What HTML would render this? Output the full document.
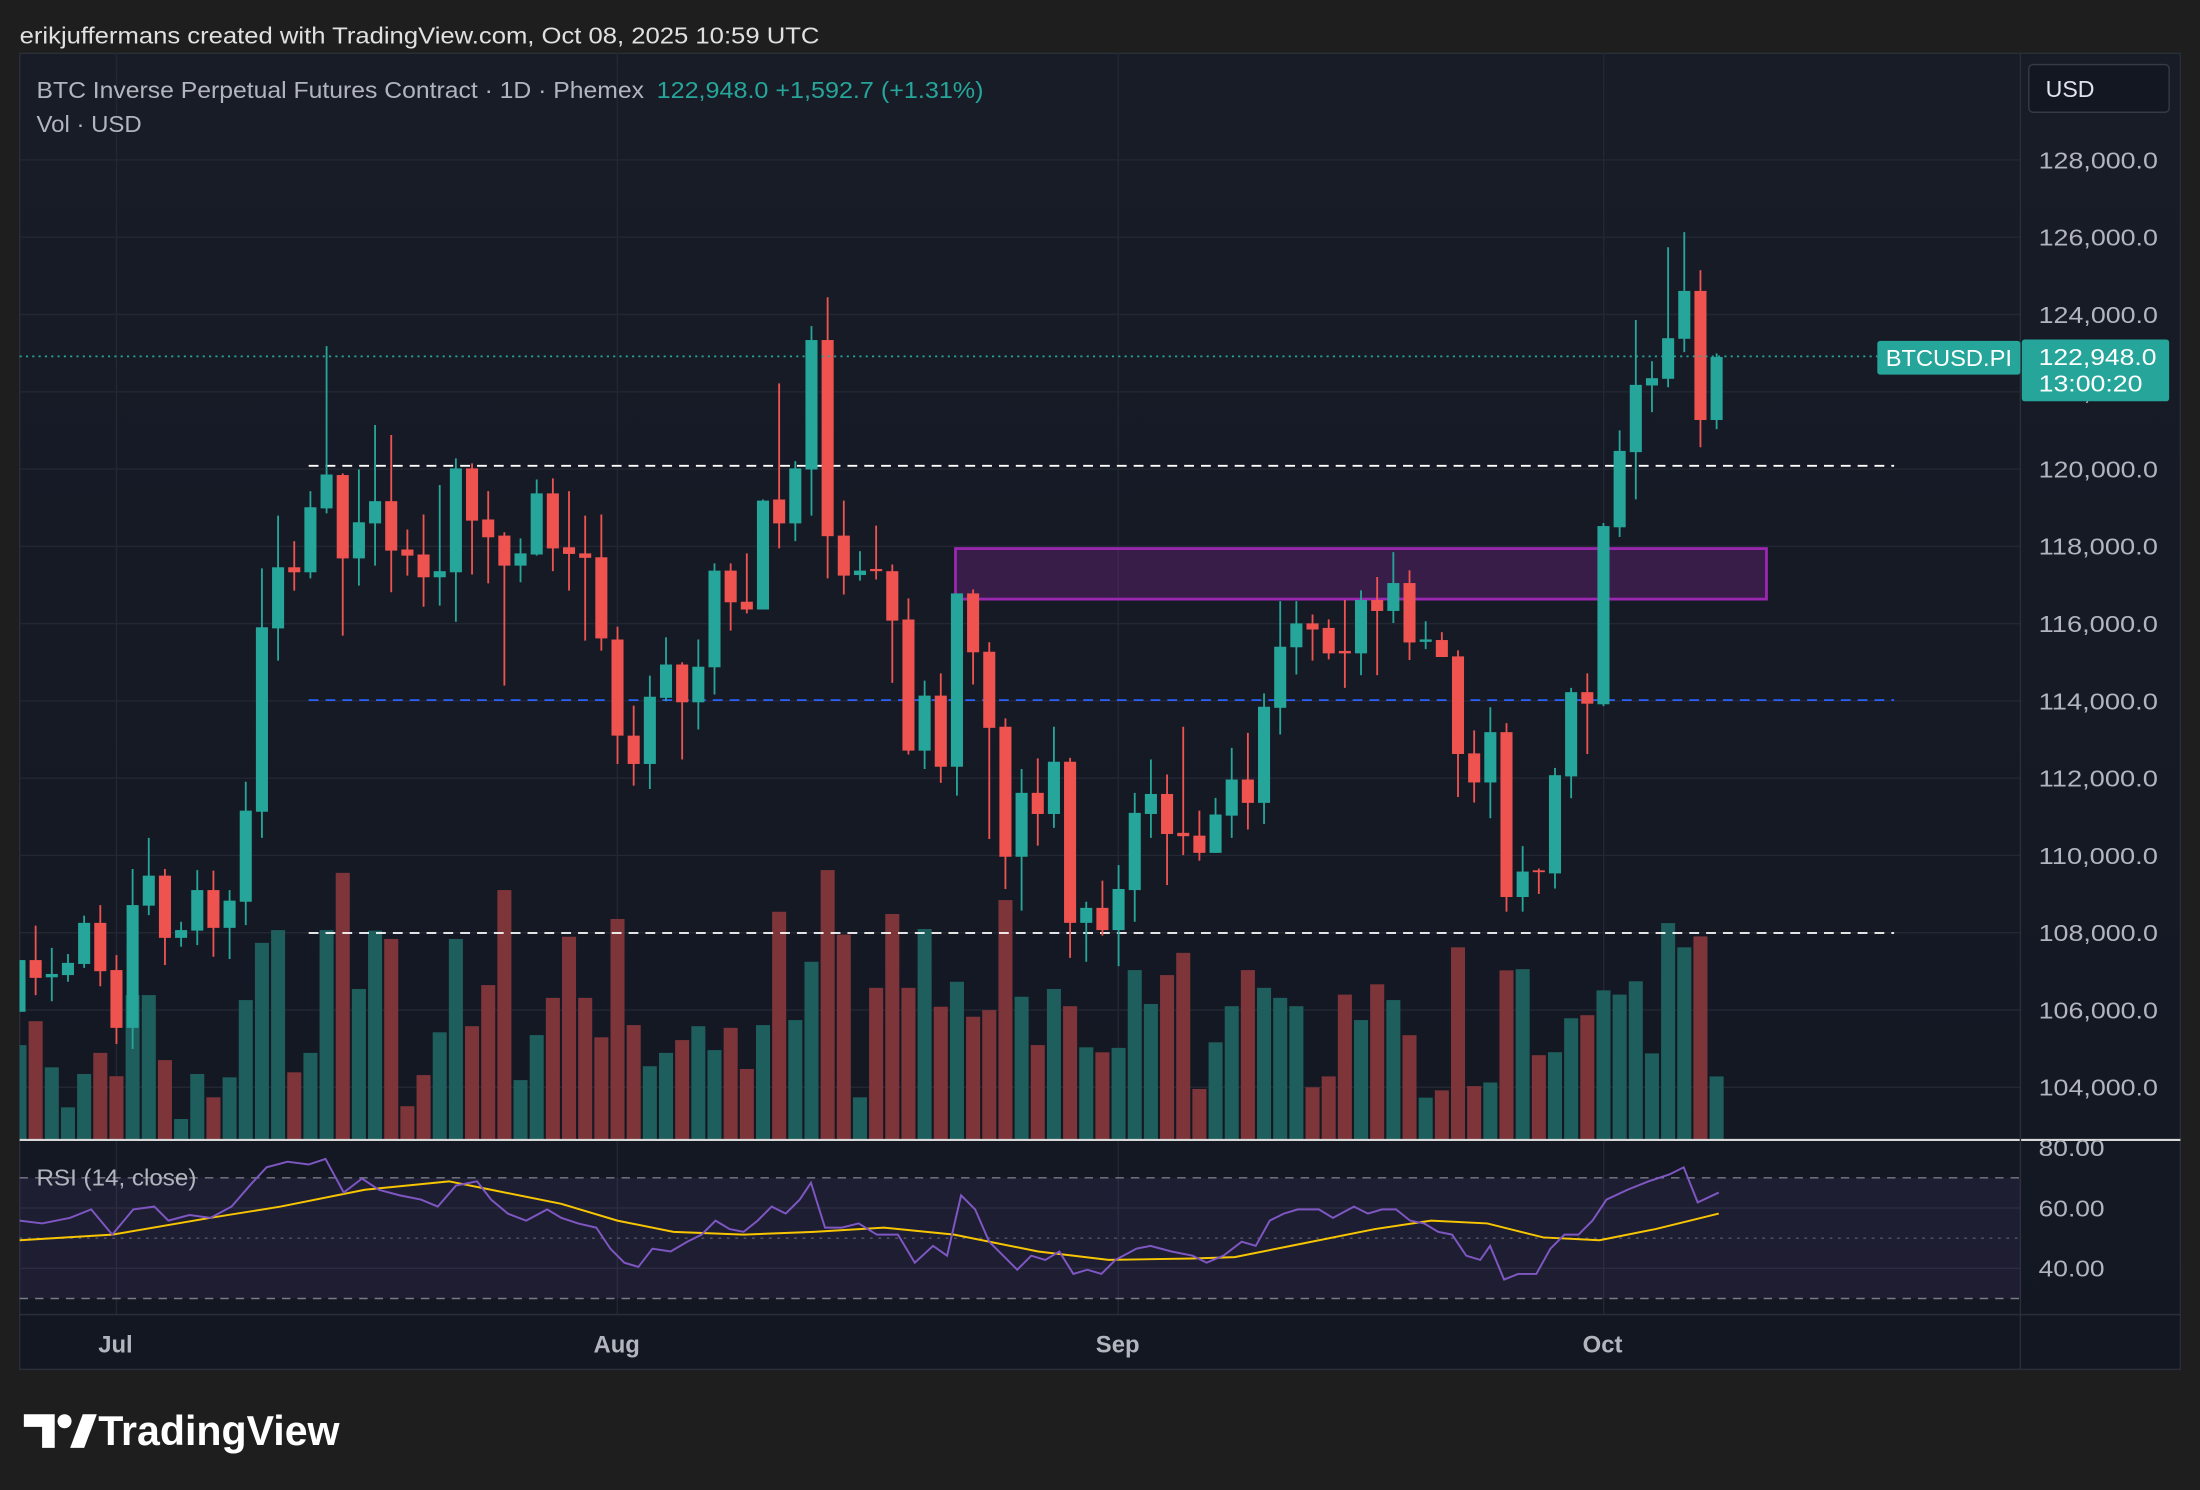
<!DOCTYPE html>
<html><head><meta charset="utf-8"><style>
html,body{margin:0;padding:0;background:#1e1e1e;width:2200px;height:1490px;overflow:hidden}
svg{display:block}
text{font-family:"Liberation Sans",sans-serif}
</style></head><body>
<svg id="s" width="2200" height="1490" viewBox="0 0 1568 1062" preserveAspectRatio="none" xmlns="http://www.w3.org/2000/svg">
<defs>
<linearGradient id="bg" x1="0" y1="0" x2="0" y2="1"><stop offset="0" stop-color="#181c27"/><stop offset="1" stop-color="#131722"/></linearGradient>
<clipPath id="cp"><rect x="14" y="38" width="1426" height="774"/></clipPath>
</defs>
<rect x="0" y="0" width="1568" height="1062" fill="#1e1e1e"/>
<text x="14" y="31" font-size="16.5" fill="#e0e0e0" textLength="570" lengthAdjust="spacingAndGlyphs">erikjuffermans created with TradingView.com, Oct 08, 2025 10:59 UTC</text>
<rect x="14" y="38" width="1540" height="938" fill="url(#bg)" stroke="#2a2e39" stroke-width="1"/>
<g id="grid" stroke="#232733" stroke-width="1"></g>
<g id="vol" clip-path="url(#cp)"></g>
<g id="lines"></g>
<rect x="681" y="391" width="578" height="36" fill="#9c27b0" fill-opacity="0.25" stroke="#9c27b0" stroke-width="2"/>
<g id="candles" clip-path="url(#cp)"></g>
<line x1="14" y1="254" x2="1338" y2="254" stroke="#26a69a" stroke-width="1.2" stroke-dasharray="1.5 3"/>
<line x1="14" y1="812.5" x2="1554" y2="812.5" stroke="#d8d8d8" stroke-width="1.5"/>
<line x1="1440" y1="38" x2="1440" y2="976" stroke="#2a2e39" stroke-width="1"/>
<line x1="14" y1="937" x2="1554" y2="937" stroke="#2a2e39" stroke-width="1"/>
<g id="rsi"></g>
<g id="labels" font-size="16.5" fill="#b2b5be"></g>
<text x="26" y="70" font-size="16.5" fill="#b2b5be" textLength="433" lengthAdjust="spacingAndGlyphs">BTC Inverse Perpetual Futures Contract · 1D · Phemex</text>
<text x="468" y="70" font-size="16.5" fill="#26a69a" textLength="233" lengthAdjust="spacingAndGlyphs">122,948.0  +1,592.7 (+1.31%)</text>
<text x="26" y="94" font-size="16.5" fill="#b2b5be" textLength="75" lengthAdjust="spacingAndGlyphs">Vol · USD</text>
<text x="26" y="845" font-size="16.5" fill="#b2b5be" textLength="114" lengthAdjust="spacingAndGlyphs">RSI (14, close)</text>
<rect x="1446" y="46" width="100" height="34" rx="3" fill="#131722" stroke="#363a45"/>
<text x="1458" y="69" font-size="16.5" fill="#e0e3eb">USD</text>
<rect x="1338" y="243" width="102" height="24" rx="2" fill="#26a69a"/>
<text x="1344" y="261" font-size="16.5" fill="#fff" textLength="90" lengthAdjust="spacingAndGlyphs">BTCUSD.PI</text>
<rect x="1441" y="242" width="105" height="44" rx="2" fill="#26a69a"/>
<text x="1453" y="260" font-size="16.5" fill="#fff" textLength="84" lengthAdjust="spacingAndGlyphs">122,948.0</text>
<text x="1453" y="279" font-size="16.5" fill="#fff" textLength="74" lengthAdjust="spacingAndGlyphs">13:00:20</text>
<g font-size="17" font-weight="bold" fill="#b2b5be">
<text x="70" y="964">Jul</text><text x="423" y="964">Aug</text><text x="781" y="964">Sep</text><text x="1128" y="964">Oct</text>
</g>
<g fill="#ffffff">
<path d="M17 1008 h22 v24 h-9 v-15 h-13 z"/>
<circle cx="46" cy="1013" r="5"/>
<path d="M50 1032 l9 -24 h10 l-9 24 z"/>
</g>
<text x="70" y="1030" font-size="30" font-weight="bold" fill="#ffffff" textLength="172" lengthAdjust="spacingAndGlyphs">TradingView</text>
</svg>
<script>
var NS="http://www.w3.org/2000/svg";
function el(p,t,a){var e=document.createElementNS(NS,t);for(var k in a)e.setAttribute(k,a[k]);document.getElementById(p).appendChild(e);return e;}
function py(p){return 114+(128000-p)*0.02754;}
for(var p=104000;p<=128000;p+=2000){var y=py(p);el("grid","line",{x1:14,y1:y,x2:1440,y2:y});
 var t=el("labels","text",{x:1453,y:y+6,textLength:85,lengthAdjust:"spacingAndGlyphs"});t.textContent=(p/1000).toFixed(0)+",000.0";}
[83,440,797,1143].forEach(function(x){el("grid","line",{x1:x,y1:38,x2:x,y2:937});});
el("grid","line",{x1:14,y1:861,x2:1440,y2:861});el("grid","line",{x1:14,y1:904,x2:1440,y2:904});
el("lines","line",{x1:220,y1:332,x2:1350,y2:332,stroke:"#ffffff","stroke-width":1.3,"stroke-dasharray":"7 5"});
el("lines","line",{x1:220,y1:665,x2:1350,y2:665,stroke:"#ffffff","stroke-width":1.3,"stroke-dasharray":"7 5"});
el("lines","line",{x1:220,y1:499,x2:1350,y2:499,stroke:"#2962ff","stroke-width":1.3,"stroke-dasharray":"7 5"});
var A=[
[1224,1317,1224,1317,1],[1224,1256,1162,1287,0],[1249,1255,1202,1298,1],[1229,1251,1213,1263,1],[1157,1231,1144,1238,1],[1157,1244,1125,1271,0],
[1242,1346,1215,1375,0],[1125,1346,1060,1384,1],[1072,1126,1004,1143,1],[1072,1184,1060,1233,0],[1170,1184,1155,1200,1],[1098,1171,1062,1197,1],
[1098,1166,1063,1218,0],[1117,1166,1098,1222,1],[955,1119,903,1161,1],[625,957,519,1004,1],[517,627,424,685,1],[517,526,470,559,0],
[409,526,380,537,1],[350,411,119,420,1],[351,501,348,640,0],[436,501,341,550,1],[398,438,261,514,1],[398,487,279,562,0],[485,496,449,532,0],
[494,535,422,588,0],[524,535,369,586,1],[339,526,321,615,1],[339,433,330,530,0],[431,463,380,546,0],[460,514,454,730,0],[492,514,465,544,1],
[384,494,359,496,1],[384,483,357,524,0],[481,493,380,559,0],[492,500,424,649,0],[499,645,422,667,0],[647,820,624,871,0],[820,871,766,910,0],
[750,871,712,916,1],[692,752,643,758,1],[692,760,688,863,0],[696,760,647,809,1],[523,697,510,746,1],[523,580,510,631,0],[579,593,492,600,0],
[397,593,395,593,1],[395,438,186,483,0],[339,438,326,470,1],[108,341,83,424,1],[108,461,31,537,0],[460,532,397,566,0],[523,531,488,541,1],
[520,524,442,539,0],[524,613,512,725,0],[611,847,573,854,0],[748,847,721,880,1],[748,876,708,905,0],[564,876,564,928,1],[564,670,557,728,0],
[669,806,652,1006,0],[804,1038,789,1096,0],[923,1038,880,1135,1],[923,961,861,1018,0],[867,961,804,986,1],[867,1157,860,1220,0],[1130,1157,1119,1227,1],
[1130,1170,1081,1180,0],[1096,1170,1053,1235,1],[959,1098,923,1155,1],[925,961,863,1004,1],[925,997,890,1089,0],[995,1001,804,1035,0],[1000,1031,955,1045,0],
[962,1031,932,1031,1],[899,964,842,1004,1],[899,941,815,989,0],[768,941,744,979,1],[660,770,578,818,1],[618,661,578,710,1],[618,629,602,685,0]];
var B=[
[706,748,692,758,0],[744,748,660,805,0],[660,748,644,784,1],[660,678,622,784,0],[632,678,581,698,1],[632,730,611,759,0],[725,729,695,741,1],[726,754,713,754,0],
[753,914,743,985,0],[913,961,875,994,0],[878,961,837,1020,1],[878,1150,863,1174,0],[1108,1150,1066,1174,1],[1106,1109,1103,1145,0],[949,1111,937,1136,1],
[812,951,805,987,1],[812,831,781,914,0],[538,832,533,835,1],[414,540,380,556,1],[305,416,198,494,1],[294,306,266,350,1],[228,295,78,309,1],[150,229,53,251,1],
[150,363,116,408,0],[259,363,253,378,1]];
var VA=[1377,1334,1417,1489,1429,1391,1433,1287,1287,1404,1510,1429,1471,1435,1296,1193,1170,1426,1391,1170,1067,1276,1171,1186,1487,1431,1354,1186,
1343,1269,1098,1440,1359,1292,1182,1292,1363,1150,1341,1415,1391,1368,1343,1386,1346,1420,1341,1137,1332,1227,1062,1178,1471,1274,1141,
1274,1168,1308,1263,1326,1314,1116,1290,1377,1276,1307,1381,1390,1382,1242,1303,1251,1211,1456,1372,1307,1242,1274,1292,1307,1453];
var VB=[1446,1311,1353,1294,1320,1378,1481,1469,1233,1462,1456,1271,1269,1411,1406,1350,1345,1304,1311,1289,1408,1193,1233,1215,1446];
function ya(z){return 199.6+0.396*z;} function yb(z){return 142.55+0.432*z;}
function draw(c,off,f){var x=83+11.52*off,col=c[4]?"#26a69a":"#ef5350";
 el("candles","line",{x1:x,y1:f(c[2]),x2:x,y2:f(c[3]),stroke:col,"stroke-width":1.3});
 var t=f(c[0]),b=f(c[1]);el("candles","rect",{x:x-4.3,y:t,width:8.6,height:Math.max(1,b-t),fill:col});}
function vol(z,off,up,f){var x=83+11.52*off,t=f(z);el("vol","rect",{x:x-5,y:t,width:10,height:812-t,fill:up?"#1e5e5d":"#7e353a"});}
A.forEach(function(c,i){draw(c,i-6,ya);vol(VA[i],i-6,c[4],ya);});
B.forEach(function(c,i){draw(c,i+75,yb);vol(VB[i],i+75,c[4],yb);});
function ry(v){return 818+(80-v)*2.15;}
el("rsi","rect",{x:14,y:ry(70),width:1426,height:ry(30)-ry(70),fill:"#7e57c2","fill-opacity":0.1});
[70,30].forEach(function(v){el("rsi","line",{x1:14,y1:ry(v),x2:1440,y2:ry(v),stroke:"#787b86","stroke-width":1,"stroke-dasharray":"6 5"});});
el("rsi","line",{x1:14,y1:ry(50),x2:1440,y2:ry(50),stroke:"#787b86","stroke-width":1,"stroke-dasharray":"2 4","stroke-opacity":0.6});
var R="14,870 30,872 50,868 65,862 80,880 95,862 110,860 120,870 135,866 150,868 165,860 178,845 190,832 205,828 220,830 232,826 245,850 258,840 270,848 285,852 300,855 312,860 325,845 340,842 350,855 362,865 375,870 390,862 400,868 412,872 425,875 435,890 445,900 455,903 465,890 478,892 490,885 500,880 510,870 520,876 530,878 540,870 550,860 560,865 570,855 578,843 588,875 600,875 612,872 625,880 640,880 652,900 665,888 675,895 685,852 695,862 705,885 715,895 725,905 735,895 745,898 755,892 765,908 775,905 785,908 795,898 810,890 820,888 835,892 850,895 860,900 872,895 885,885 895,888 905,870 915,865 925,862 940,862 950,868 965,860 975,865 985,862 995,862 1005,870 1015,872 1025,878 1035,880 1045,895 1055,898 1062,888 1072,912 1082,908 1095,908 1105,890 1115,880 1125,880 1135,870 1145,855 1160,848 1175,842 1190,837 1200,832 1210,857 1225,850";
var M="14,884 80,880 150,868 200,860 260,848 320,842 350,848 400,858 440,870 480,878 530,880 580,878 630,875 680,880 740,892 790,898 850,897 880,896 920,888 980,876 1020,870 1060,872 1100,882 1140,884 1180,876 1225,865";
el("rsi","polyline",{points:M,fill:"none",stroke:"#f7c600","stroke-width":1.4});
el("rsi","polyline",{points:R,fill:"none",stroke:"#7e57c2","stroke-width":1.4});
[80,60,40].forEach(function(v){var t=el("labels","text",{x:1453,y:ry(v)+6,textLength:47,lengthAdjust:"spacingAndGlyphs"});t.textContent=v.toFixed(2);});
</script>
</body></html>
